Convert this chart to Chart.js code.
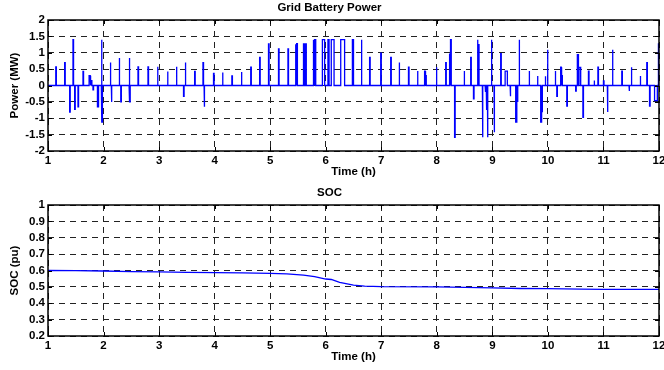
<!DOCTYPE html>
<html><head><meta charset="utf-8">
<script src="https://cdn.jsdelivr.net/npm/chart.js@4.4.1/dist/chart.umd.min.js"></script>
<style>
html,body{margin:0;padding:0;background:#fff;}
.c{position:absolute;left:0;width:664px;height:185px;}
</style>
</head><body>
<div class="c" style="top:0"><canvas id="p" width="664" height="185"></canvas></div>
<div class="c" style="top:185px"><canvas id="s" width="664" height="185"></canvas></div>
<script>
// ---- Data ----
const timeTicks = [1,2,3,4,5,6,7,8,9,10,11,12];
const powerTicks = [-2,-1.5,-1,-0.5,0,0.5,1,1.5,2];
const socTicks = [0.2,0.3,0.4,0.5,0.6,0.7,0.8,0.9,1];

// battery power pulses: start time (h), duration (h), power (MW)
const pulseTime  = [1.14,1.30,1.39,1.45,1.48,1.54,1.63,1.74,1.77,1.81,1.89,1.96,1.97,2.12,2.14,2.28,2.31,2.46,2.47,2.62,2.80,2.97,3.15,3.31,3.44,3.47,3.64,3.79,3.81,3.98,4.14,4.31,4.48,4.65,4.81,4.97,5.15,5.32,5.46,5.48,5.60,5.63,5.78,5.80,5.94,6.04,6.10,6.27,6.48,6.64,6.79,6.99,7.17,7.32,7.49,7.65,7.78,7.80,7.99,8.16,8.23,8.25,8.32,8.49,8.61,8.66,8.73,8.75,8.82,8.87,8.89,8.91,8.98,9.03,9.15,9.23,9.32,9.42,9.45,9.48,9.66,9.81,9.87,9.89,9.95,9.99,10.13,10.16,10.23,10.25,10.34,10.50,10.53,10.56,10.63,10.73,10.83,10.90,11.00,11.07,11.16,11.33,11.46,11.50,11.66,11.78,11.83,11.92,11.99];
const pulseWidth = [0.01,0.01,0.01,0.01,0.01,0.01,0.01,0.02,0.02,0.01,0.02,0.01,0.01,0.01,0.01,0.01,0.01,0.01,0.01,0.01,0.01,0.01,0.01,0.01,0.01,0.01,0.01,0.01,0.01,0.01,0.01,0.01,0.01,0.01,0.01,0.01,0.01,0.01,0.01,0.01,0.02,0.02,0.01,0.02,0.04,0.02,0.05,0.07,0.02,0.01,0.01,0.01,0.01,0.01,0.01,0.01,0.01,0.01,0.01,0.01,0.01,0.01,0.01,0.01,0.01,0.01,0.01,0.01,0.01,0.01,0.01,0.01,0.01,0.01,0.01,0.04,0.01,0.02,0.01,0.01,0.01,0.01,0.01,0.01,0.01,0.01,0.01,0.01,0.01,0.01,0.01,0.01,0.02,0.03,0.01,0.01,0.01,0.01,0.01,0.01,0.01,0.01,0.01,0.01,0.01,0.01,0.01,0.05,0.01];
const pulseValue = [0.57,0.70,-0.81,1.40,-0.73,-0.65,0.43,0.30,0.15,-0.13,-0.65,1.40,-1.12,0.70,-0.50,0.84,-0.50,0.84,-0.50,0.57,0.57,0.57,0.43,0.57,-0.33,0.70,0.43,0.70,-0.65,0.37,0.40,0.29,0.41,0.56,0.86,1.27,1.12,1.12,1.24,1.28,1.27,1.27,1.37,1.40,1.40,1.40,1.40,1.40,1.40,1.40,0.86,0.99,0.86,0.70,0.56,0.44,0.44,0.30,0.56,0.70,0.96,1.40,-1.58,0.44,0.86,-0.41,1.40,1.25,-1.58,-0.20,-0.75,-1.58,1.40,-1.43,0.97,0.44,-0.33,-1.12,-0.50,1.40,0.44,0.29,-1.12,-0.80,0.28,1.09,0.44,-0.33,0.56,0.30,-0.63,-0.17,0.94,0.55,-0.97,0.44,0.15,0.56,0.14,-0.81,1.09,0.44,-0.17,0.56,0.29,0.70,-0.63,-0.46,1.27];

// state of charge
const socTime  = [1,1.5,2,2.5,3,3.5,4,4.5,5,5.3,5.6,5.8,6.0,6.1,6.25,6.5,6.7,7,8,8.5,9,9.5,10,10.6,11,12];
const socValue = [0.600,0.599,0.597,0.593,0.591,0.589,0.587,0.585,0.583,0.580,0.572,0.563,0.548,0.545,0.528,0.511,0.505,0.502,0.500,0.497,0.494,0.490,0.489,0.486,0.485,0.485];

// ---- build series ----
const powerPts = [{x:1,y:0}];
pulseTime.forEach((t,i)=>{
  const v = pulseValue[i], w = pulseWidth[i];
  powerPts.push({x:t,y:0},{x:t,y:v},{x:t+w,y:v},{x:t+w,y:0});
});
powerPts.push({x:12,y:0});
const socPts = socTime.map((t,i)=>({x:t,y:socValue[i]}));

Chart.defaults.font.family = "'Liberation Sans', Arial, sans-serif";
Chart.defaults.color = '#000';
const FS = 11.5;

const framePlugin = {
  id:'frame',
  afterDraw(chart){
    const {ctx, chartArea:a, scales} = chart;
    ctx.save();
    ctx.strokeStyle = '#000';
    ctx.lineWidth = 1;
    ctx.beginPath();
    scales.x.ticks.forEach(tk=>{
      const px = Math.round(scales.x.getPixelForValue(tk.value))+0.5;
      ctx.moveTo(px,a.bottom); ctx.lineTo(px,a.bottom-4);
      ctx.moveTo(px,a.top); ctx.lineTo(px,a.top+4);
    });
    scales.y.ticks.forEach(tk=>{
      const py = Math.round(scales.y.getPixelForValue(tk.value))+0.5;
      ctx.moveTo(a.left,py); ctx.lineTo(a.left+4,py);
      ctx.moveTo(a.right,py); ctx.lineTo(a.right-4,py);
    });
    ctx.stroke();
    ctx.lineWidth = 1.5;
    ctx.strokeRect(a.left, a.top, a.right-a.left, a.bottom-a.top);
    ctx.restore();
  }
};

function makeChart(id, pts, title, yTitle, yTicks, yMin, yMax){
  return new Chart(document.getElementById(id), {
    type:'line',
    data:{datasets:[{data:pts, borderColor:'#0000ff', borderWidth:1.3, pointRadius:0, tension:0, fill:false}]},
    options:{
      responsive:false, animation:false,
      layout:{padding:{left:0,right:5,top:0,bottom:0}},
      plugins:{
        legend:{display:false}, tooltip:{enabled:false},
        title:{display:true, text:title, color:'#000', font:{size:FS, weight:'bold'}, padding:{top:1,bottom:5.2}}
      },
      scales:{
        x:{type:'linear', min:1, max:12,
          afterBuildTicks:s=>{s.ticks = timeTicks.map(v=>({value:v}));},
          afterFit:s=>{s.height=34; s.paddingLeft=0; s.paddingRight=0;},
          ticks:{color:'#000', font:{size:FS, weight:'bold'}, padding:3, maxRotation:0, autoSkip:false, callback:v=>String(v)},
          grid:{color:'#222', lineWidth:1, drawTicks:false},
          border:{display:false, dash:[6,5]},
          title:{display:true, text:'Time (h)', color:'#000', font:{size:FS, weight:'bold'}, padding:{top:0,bottom:6}}
        },
        y:{type:'linear', min:yMin, max:yMax,
          afterBuildTicks:s=>{s.ticks = yTicks.map(v=>({value:v}));},
          afterFit:s=>{s.width=48;},
          ticks:{color:'#000', font:{size:FS, weight:'bold'}, padding:3, autoSkip:false, callback:v=>String(v)},
          grid:{color:'#222', lineWidth:1, drawTicks:false},
          border:{display:false, dash:[6,5]},
          title:{display:true, text:yTitle, color:'#000', font:{size:FS, weight:'bold'}, padding:{top:7.5,bottom:0}}
        }
      }
    },
    plugins:[framePlugin]
  });
}

makeChart('p', powerPts, 'Grid Battery Power', 'Power (MW)', powerTicks, -2, 2);
makeChart('s', socPts, 'SOC', 'SOC (pu)', socTicks, 0.2, 1);
</script>
</body></html>
